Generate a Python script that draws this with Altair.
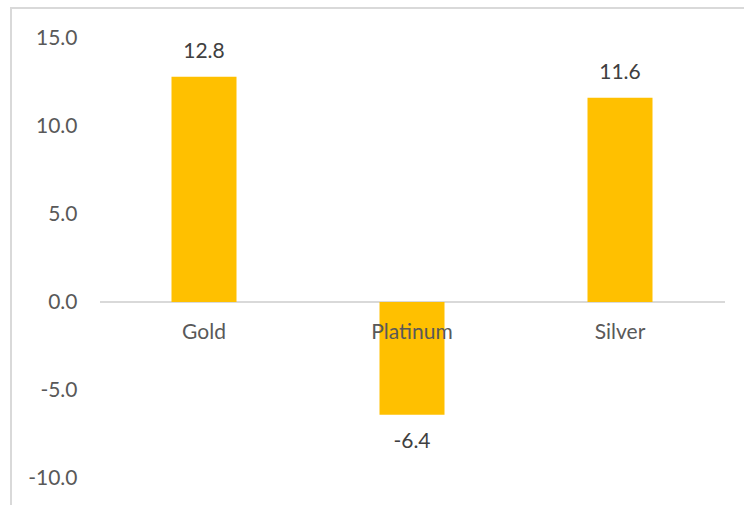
import altair as alt
import pandas as pd

categories = ["Gold", "Platinum", "Silver"]
values = [12.8, -6.4, 11.6]
y_ticks = [-10, -5, 0, 5, 10, 15]

df = pd.DataFrame({"metal": categories, "value": values})

FONT = "Lato"
FS = 21
x_enc = alt.X("metal:N", sort=categories,
              scale=alt.Scale(paddingInner=0.6875, paddingOuter=0.34375),
              axis=None)
y_scale = alt.Scale(domain=[-10, 15], nice=False, zero=False)

base = alt.Chart(df).transform_calculate(
    label="replace(format(datum.value, '.1f'), '\u2212', '-')"
)

bars = base.mark_bar(color="#FFC000").encode(
    x=x_enc,
    y=alt.Y("value:Q", scale=y_scale,
            axis=alt.Axis(values=y_ticks, ticks=False, domain=False,
                          labelExpr="replace(format(datum.value, '.1f'), '\u2212', '-')",
                          grid=False, labelPadding=23, labelFontSize=FS,
                          labelFont=FONT, labelColor="#595959", title=None)),
    y2=alt.datum(0),
)

zero = base.mark_rule(color="#d9d9d9", strokeWidth=2).encode(
    y=alt.datum(0), x=alt.value(0), x2=alt.value(625)
)

cat_labels = base.mark_text(fontSize=FS, font=FONT, color="#595959",
                            baseline="middle", dy=31).encode(
    x=x_enc, y=alt.datum(0), text="metal:N"
)

pos_labels = base.transform_filter("datum.value >= 0").mark_text(
    fontSize=FS, font=FONT, color="#404040", baseline="middle", dy=-25
).encode(x=x_enc, y="value:Q", text="label:N")

neg_labels = base.transform_filter("datum.value < 0").mark_text(
    fontSize=FS, font=FONT, color="#404040", baseline="middle", dy=27
).encode(x=x_enc, y="value:Q", text="label:N")

frame = base.mark_rect(fillOpacity=0, stroke="#d9d9d9", strokeWidth=2).encode(
    x=alt.value(-89), y=alt.value(-30), x2=alt.value(720), y2=alt.value(520)
)

chart = alt.layer(frame, zero, bars, cat_labels, pos_labels, neg_labels).properties(
    width=624, height=440,
    autosize=alt.AutoSizeParams(type="none"),
    padding={"left": 100, "top": 38, "right": 20, "bottom": 27},
    background="white",
).configure_view(stroke=None)

chart.save("out.html", embed_options={"renderer": "svg", "actions": False})
